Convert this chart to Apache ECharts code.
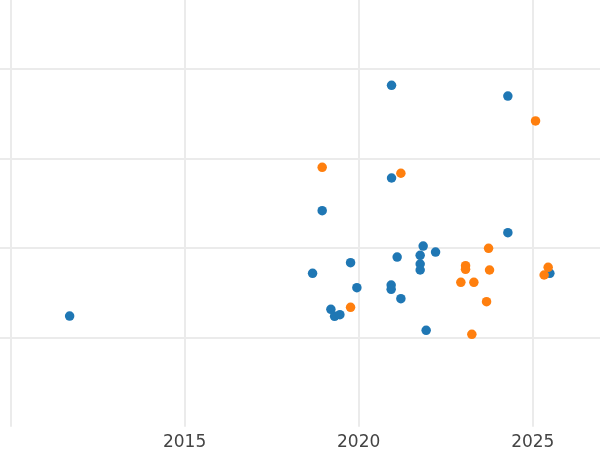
<!DOCTYPE html>
<html>
<head>
<meta charset="utf-8">
<script src="https://cdn.jsdelivr.net/npm/echarts@6/dist/echarts.min.js"></script>
<style>
html,body{margin:0;padding:0;background:#fff;}
#chart{width:600px;height:450px;}
</style>
</head>
<body>
<div id="chart"></div>
<script>
// Series A (blue): [year, value]
const blueX = [2011.70, 2018.676, 2018.952, 2019.202, 2019.308, 2019.460, 2019.767, 2019.948, 2020.944, 2020.944, 2020.933, 2020.933, 2021.105, 2021.212, 2021.766, 2021.766, 2021.766, 2021.852, 2021.938, 2022.208, 2024.284, 2024.284, 2025.490];
const blueY = [1.239, 1.717, 2.417, 1.314, 1.236, 1.254, 1.836, 1.556, 3.820, 2.783, 1.586, 1.538, 1.899, 1.433, 1.918, 1.821, 1.754, 2.022, 1.079, 1.955, 3.700, 2.171, 1.717];
// Series B (orange)
const orangeX = [2018.952, 2019.767, 2021.212, 2022.934, 2023.069, 2023.069, 2023.250, 2023.308, 2023.672, 2023.730, 2023.758, 2025.079, 2025.326, 2025.441];
const orangeY = [2.903, 1.337, 2.836, 1.616, 1.802, 1.762, 1.035, 1.616, 1.399, 1.997, 1.754, 3.421, 1.698, 1.784];
// Tick labels shown on the x axis
const xTickLabels = [2015, 2020, 2025];

const xMin = 2009.70, xMax = 2026.93;
const yMin = 0, yMax = 4.774;

const chart = echarts.init(document.getElementById('chart'), null, {renderer: 'canvas'});
const zip = (xs, ys) => xs.map((x, i) => [x, ys[i]]);
const gridColor = '#ebebeb';

chart.setOption({
  animation: false,
  backgroundColor: '#ffffff',
  grid: {left: 0, right: 0, top: 0, bottom: 23.2, containLabel: false, outerBoundsMode: 'none'},
  xAxis: {
    type: 'value', min: xMin, max: xMax, splitNumber: 3,
    axisLine: {show: false}, axisTick: {show: false},
    splitLine: {show: true, showMinLine: false, showMaxLine: false, lineStyle: {color: gridColor, width: 2}},
    axisLabel: {
      show: true, margin: 7, color: '#444', fontFamily: 'DejaVu Sans', fontSize: 17,
      showMinLabel: false, showMaxLabel: false,
      formatter: v => (Math.abs(v - Math.round(v)) < 1e-6 && xTickLabels.includes(Math.round(v))) ? String(Math.round(v)) : ''
    }
  },
  yAxis: {
    type: 'value', min: yMin, max: yMax, interval: 1,
    axisLine: {show: false}, axisTick: {show: false}, axisLabel: {show: false},
    splitLine: {show: true, showMinLine: false, showMaxLine: false, lineStyle: {color: gridColor, width: 2}}
  },
  series: [
    {type: 'scatter', data: zip(blueX, blueY), symbolSize: 9.5, itemStyle: {color: '#1f77b4', opacity: 1}},
    {type: 'scatter', data: zip(orangeX, orangeY), symbolSize: 9.5, itemStyle: {color: '#ff7f0e', opacity: 1}}
  ]
});
</script>
</body>
</html>
